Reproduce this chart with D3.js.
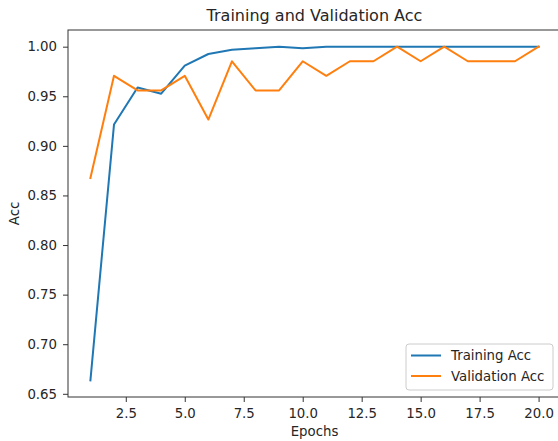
<!DOCTYPE html>
<html>
<head>
<meta charset="utf-8">
<script src="https://cdn.jsdelivr.net/npm/d3@7"></script>
<style>
    body { margin: 0; background: #fff; }
    svg text { font-family: "DejaVu Sans", sans-serif; fill: #262626; }
</style>
</head>
<body>
<div id="chart"></div>
<script>
    const epochs = [1, 2, 3, 4, 5, 6, 7, 8, 9, 10, 11, 12, 13, 14, 15, 16, 17, 18, 19, 20];
    const trainAcc = [0.6636, 0.9215, 0.9589, 0.9526, 0.9810, 0.9926, 0.9968, 0.9984, 1.0, 0.9984,
        1.0, 1.0, 1.0, 1.0, 1.0, 1.0, 1.0, 1.0, 1.0, 1.0];
    const valAcc = [0.8676, 0.9706, 0.9559, 0.9559, 0.9706, 0.9265, 0.9853, 0.9559, 0.9559, 0.9853,
        0.9706, 0.9853, 0.9853, 1.0, 0.9853, 1.0, 0.9853, 0.9853, 0.9853, 1.0];
    const xTicks = [2.5, 5.0, 7.5, 10.0, 12.5, 15.0, 17.5, 20.0];
    const yTicks = [0.65, 0.70, 0.75, 0.80, 0.85, 0.90, 0.95, 1.00];
    const seriesNames = ["Training Acc", "Validation Acc"];
    const colors = ["#1f77b4", "#ff7f0e"];

    const W = 558, H = 441;
    const margin = { top: 30, right: -3, bottom: 44, left: 68 };
    const width = W - margin.left - margin.right;
    const height = H - margin.top - margin.bottom;
    const fs = "13.3px";

    const svg = d3.select("#chart")
        .append("svg")
        .attr("width", W)
        .attr("height", H);

    const g = svg.append("g")
        .attr("transform", `translate(${margin.left},${margin.top})`);

    const allY = trainAcc.concat(valAcc);
    const yMin = d3.min(allY), yMax = d3.max(allY);
    const yPad = (yMax - yMin) * 0.05;
    const xPad = (d3.max(epochs) - d3.min(epochs)) * 0.05;

    const x = d3.scaleLinear()
        .domain([d3.min(epochs) - xPad, d3.max(epochs) + xPad])
        .range([0, width]);

    const y = d3.scaleLinear()
        .domain([yMin - yPad, yMax + yPad])
        .range([height, 0]);

    // axes
    const xAxis = g.append("g")
        .attr("transform", `translate(0,${height})`)
        .call(d3.axisBottom(x).tickValues(xTicks).tickFormat(d3.format(".1f")).tickSize(5).tickPadding(6.5));
    const yAxis = g.append("g")
        .call(d3.axisLeft(y).tickValues(yTicks).tickFormat(d3.format(".2f")).tickSize(5).tickPadding(6));

    [xAxis, yAxis].forEach(a => {
        a.selectAll("text").style("font-size", fs).attr("fill", "#262626");
        a.selectAll("line").attr("stroke", "#333").attr("stroke-width", 1);
        a.select(".domain").remove();
    });

    // spines
    g.append("rect")
        .attr("x", 0).attr("y", 0)
        .attr("width", width).attr("height", height)
        .attr("fill", "none")
        .attr("stroke", "#333")
        .attr("stroke-width", 1);

    const line = d3.line()
        .x((d, i) => x(epochs[i]))
        .y(d => y(d));

    [trainAcc, valAcc].forEach((s, k) => {
        g.append("path")
            .datum(s)
            .attr("fill", "none")
            .attr("stroke", colors[k])
            .attr("stroke-width", 2)
            .attr("stroke-linejoin", "round")
            .attr("stroke-linecap", "square")
            .attr("d", line);
    });

    // title and labels
    svg.append("text")
        .attr("x", margin.left + width / 2)
        .attr("y", 21)
        .attr("text-anchor", "middle")
        .style("font-size", "16px")
        .text("Training and Validation Acc");

    svg.append("text")
        .attr("x", margin.left + width / 2)
        .attr("y", 436)
        .attr("text-anchor", "middle")
        .style("font-size", fs)
        .text("Epochs");

    svg.append("text")
        .attr("transform", `translate(19,${margin.top + height / 2}) rotate(-90)`)
        .attr("text-anchor", "middle")
        .style("font-size", fs)
        .text("Acc");

    // legend
    const leg = svg.append("g").attr("transform", "translate(406,344)");
    leg.append("rect")
        .attr("width", 147).attr("height", 46)
        .attr("rx", 3)
        .attr("fill", "#fff")
        .attr("fill-opacity", 0.8)
        .attr("stroke", "#ccc");
    seriesNames.forEach((name, k) => {
        const row = leg.append("g").attr("transform", `translate(0,${11.5 + k * 20.5})`);
        row.append("line")
            .attr("x1", 5).attr("x2", 35)
            .attr("stroke", colors[k]).attr("stroke-width", 2);
        row.append("text")
            .attr("x", 45).attr("y", 4.7)
            .style("font-size", fs)
            .text(name);
    });
</script>
</body>
</html>
